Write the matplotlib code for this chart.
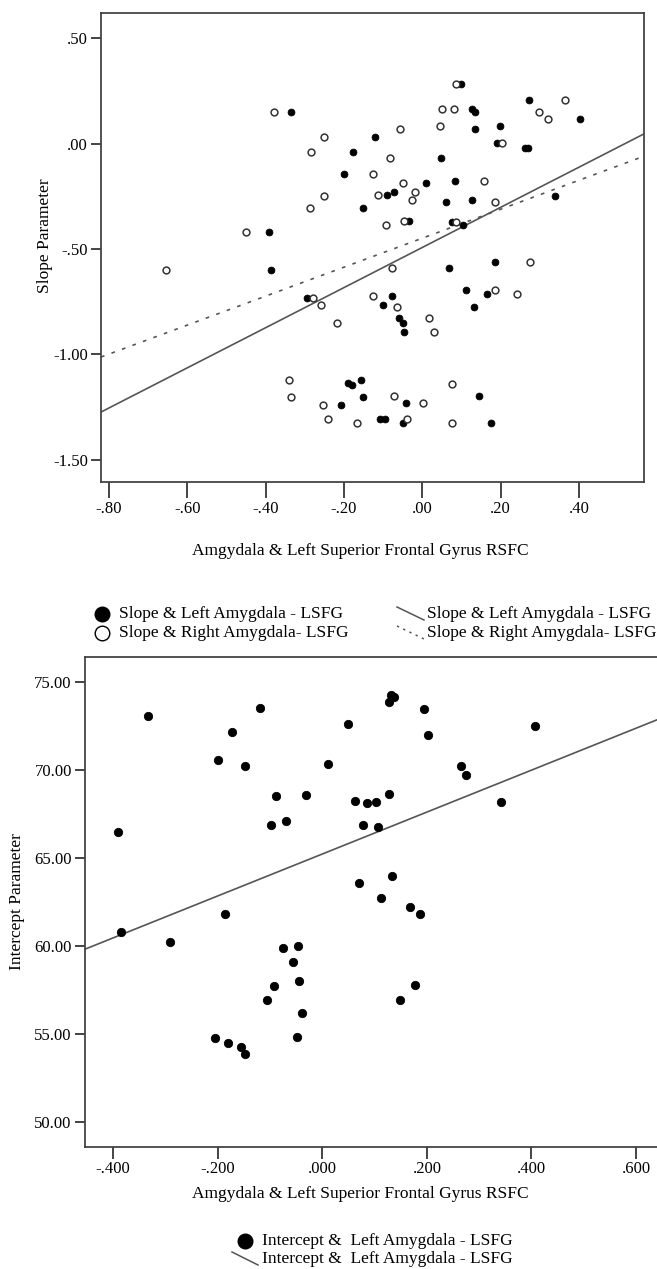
import matplotlib
matplotlib.use("Agg")
import matplotlib.pyplot as plt
import numpy as np
from matplotlib.lines import Line2D
from matplotlib.ticker import FixedLocator, FuncFormatter

plt.rcParams["font.family"] = ["Liberation Serif", "DejaVu Serif"]

# ---- top panel: slope parameter vs RSFC ----
left_x = [-0.334, -0.392, -0.387, -0.294, 0.100, 0.272, 0.126, 0.134, 0.402, 0.134,
          0.199, -0.121, -0.176, 0.192, 0.262, 0.270, 0.049, -0.200, 0.009, 0.083,
          -0.091, -0.071, -0.150, 0.060, 0.126, 0.339, -0.035, 0.075, 0.104, 0.068,
          0.185, -0.077, -0.101, -0.059, -0.049, -0.047, 0.111, 0.165, 0.131, -0.189,
          -0.180, -0.156, -0.151, -0.207, -0.108, -0.094, -0.041, -0.050, 0.146, 0.175]
left_slope = [0.149, -0.420, -0.600, -0.735, 0.283, 0.209, 0.164, 0.152, 0.115, 0.071,
              0.084, 0.030, -0.038, 0.003, -0.020, -0.020, -0.070, -0.146, -0.189, -0.176,
              -0.245, -0.231, -0.306, -0.279, -0.269, -0.249, -0.369, -0.370, -0.388, -0.592,
              -0.564, -0.724, -0.766, -0.826, -0.852, -0.893, -0.695, -0.712, -0.776, -1.138,
              -1.144, -1.122, -1.203, -1.243, -1.309, -1.309, -1.233, -1.325, -1.197, -1.327]

right_x = [-0.378, -0.250, -0.285, -0.252, -0.286, -0.450, 0.085, 0.365, 0.050, 0.081,
           0.298, 0.321, -0.058, 0.045, 0.203, -0.082, -0.125, -0.049, 0.157, -0.113,
           -0.019, -0.026, 0.185, -0.093, -0.047, 0.085, -0.653, -0.280, -0.258, -0.339,
           -0.336, -0.254, -0.241, -0.076, 0.274, -0.218, -0.126, -0.065, 0.018, 0.031,
           0.185, 0.241, -0.166, -0.072, 0.002, -0.040, 0.077, 0.077]
right_slope = [0.149, 0.030, -0.040, -0.249, -0.306, -0.420, 0.283, 0.209, 0.164, 0.164,
               0.152, 0.115, 0.071, 0.084, 0.003, -0.070, -0.146, -0.189, -0.176, -0.244,
               -0.230, -0.268, -0.279, -0.388, -0.369, -0.370, -0.600, -0.735, -0.765, -1.121,
               -1.203, -1.243, -1.309, -0.592, -0.564, -0.852, -0.724, -0.777, -0.826, -0.893,
               -0.695, -0.712, -1.325, -1.197, -1.233, -1.309, -1.143, -1.327]

# fit lines: (slope, intercept)
fit_left_slope = (0.953, -0.493)
fit_right_slope = (0.688, -0.449)

top_xticks = [-0.80, -0.60, -0.40, -0.20, 0.00, 0.20, 0.40]
top_yticks = [0.50, 0.00, -0.50, -1.00, -1.50]

# ---- bottom panel: intercept parameter vs RSFC ----
icpt_x = [-0.390, -0.333, -0.199, -0.173, -0.148, -0.119, -0.089, -0.031, -0.099, -0.070,
          0.010, 0.132, 0.137, 0.128, 0.195, 0.050, 0.202, 0.406, 0.266, 0.275,
          0.063, 0.085, 0.102, 0.128, 0.341, 0.077, 0.107, -0.385, -0.292, -0.186,
          -0.075, -0.047, -0.056, -0.092, -0.045, -0.105, -0.039, -0.206, -0.048, -0.180,
          -0.155, -0.148, 0.070, 0.134, 0.113, 0.167, 0.187, 0.178, 0.148]
icpt_y = [66.49, 73.09, 70.57, 72.18, 70.23, 73.52, 68.54, 68.61, 66.88, 67.12,
          70.36, 74.28, 74.15, 73.90, 73.47, 72.60, 72.02, 72.50, 70.26, 69.72,
          68.27, 68.14, 68.22, 68.64, 68.20, 66.88, 66.78, 60.80, 60.23, 61.84,
          59.92, 60.03, 59.11, 57.74, 58.01, 56.93, 56.19, 54.79, 54.85, 54.49,
          54.28, 53.88, 63.58, 64.01, 62.73, 62.23, 61.85, 57.82, 56.97]

fit_icpt = (11.91, 65.24)

bot_xticks = [-0.4, -0.2, 0.0, 0.2, 0.4, 0.6]
bot_yticks = [50, 55, 60, 65, 70, 75]

xlabel = "Amgydala & Left Superior Frontal Gyrus RSFC"
spine_col = "#444444"
line_col = "#555555"
fs_tick = 12
fs = 12.5
W, H = 657, 1269


def dot_fmt(decimals):
    def f(v, _):
        s = f"{v:.{decimals}f}"
        s = s.replace("0.", ".", 1) if s.startswith("0.") else s.replace("-0.", "-.", 1)
        return s
    return FuncFormatter(f)


def style_axes(ax, xlen):
    for sp in ax.spines.values():
        sp.set_color(spine_col)
        sp.set_linewidth(1.3)
    ax.tick_params(direction="out", width=1.4, color=spine_col, labelsize=fs_tick, pad=2)
    ax.tick_params(axis="y", length=7.5)
    ax.tick_params(axis="x", length=xlen)


fig = plt.figure(figsize=(W / 100, H / 100), dpi=100)

# top
ax1 = fig.add_axes([101 / W, 1 - 482.3 / H, 543 / W, 469 / H])
ax1.scatter(left_x, left_slope, s=24, c="black", edgecolors="black", linewidths=0.6, zorder=3)
ax1.scatter(right_x, right_slope, s=24, facecolors="white", edgecolors="#333333",
            linewidths=1.1, zorder=3)
ax1.set_xlim(-0.82, 0.566)
ax1.set_ylim(-1.608, 0.619)
xx = np.array(ax1.get_xlim())
ax1.plot(xx, fit_left_slope[0] * xx + fit_left_slope[1], color=line_col, lw=1.2, zorder=2)
ax1.plot(xx, fit_right_slope[0] * xx + fit_right_slope[1], color=line_col, lw=1.2,
         linestyle=(0, (2.2, 4.5)), zorder=2)
ax1.xaxis.set_major_locator(FixedLocator(top_xticks))
ax1.yaxis.set_major_locator(FixedLocator(top_yticks))
ax1.xaxis.set_major_formatter(dot_fmt(2))
ax1.yaxis.set_major_formatter(dot_fmt(2))
style_axes(ax1, 11.5)
ax1.set_ylabel("Slope Parameter", fontsize=fs)
ax1.yaxis.set_label_coords((53 - 101) / 543, (482.3 - 236) / 469)
fig.text(360 / W, 1 - 551 / H, xlabel, ha="center", va="center", fontsize=fs)

# top legend (drawn by hand to mimic the SPSS key)
for yy, filled, lab in [(614, True, "Slope & Left Amygdala - LSFG"),
                        (633, False, "Slope & Right Amygdala- LSFG")]:
    fy = 1 - yy / H
    fig.add_artist(Line2D([102 / W], [fy], marker="o", markersize=10.5,
                          markerfacecolor="black" if filled else "white",
                          markeredgecolor="black", markeredgewidth=1.0,
                          transform=fig.transFigure))
    fig.text(119 / W, fy, lab, ha="left", va="center", fontsize=fs)
for yy, ls, lab in [(614, "-", "Slope & Left Amygdala - LSFG"),
                    (633, (0, (1.5, 3)), "Slope & Right Amygdala- LSFG")]:
    y0 = 1 - (yy - 7) / H
    y1 = 1 - (yy + 6) / H
    fig.add_artist(Line2D([397 / W, 424 / W], [y0, y1], color=line_col, lw=1.1,
                          linestyle=ls, transform=fig.transFigure))
    fig.text(427 / W, 1 - yy / H, lab, ha="left", va="center", fontsize=fs)

# bottom
ax2 = fig.add_axes([85 / W, 1 - 1146.7 / H, 574 / W, 490 / H])
ax2.scatter(icpt_x, icpt_y, s=36, c="black", edgecolors="black", linewidths=0.6, zorder=3)
ax2.set_xlim(-0.454, 0.644)
ax2.set_ylim(48.61, 76.45)
xx = np.array(ax2.get_xlim())
ax2.plot(xx, fit_icpt[0] * xx + fit_icpt[1], color=line_col, lw=1.2, zorder=2)
ax2.xaxis.set_major_locator(FixedLocator(bot_xticks))
ax2.yaxis.set_major_locator(FixedLocator(bot_yticks))
ax2.xaxis.set_major_formatter(dot_fmt(3))
ax2.yaxis.set_major_formatter(FuncFormatter(lambda v, _: f"{v:.2f}"))
style_axes(ax2, 8.5)
ax2.set_ylabel("Intercept Parameter", fontsize=fs)
ax2.yaxis.set_label_coords((25 - 85) / 574, 0.5)
fig.text(360 / W, 1 - 1194 / H, xlabel, ha="center", va="center", fontsize=fs)

fy = 1 - 1241 / H
fig.add_artist(Line2D([245 / W], [fy], marker="o", markersize=10.5, markerfacecolor="black",
                      markeredgecolor="black", transform=fig.transFigure))
fig.text(262 / W, fy, "Intercept &  Left Amygdala - LSFG", ha="left", va="center", fontsize=fs)
fig.add_artist(Line2D([232 / W, 258 / W], [1 - 1252 / H, 1 - 1265 / H],
                      color=line_col, lw=1.1, transform=fig.transFigure))
fig.text(262 / W, 1 - 1259 / H, "Intercept &  Left Amygdala - LSFG", ha="left",
         va="center", fontsize=fs)

fig.savefig("out.png", dpi=100)
